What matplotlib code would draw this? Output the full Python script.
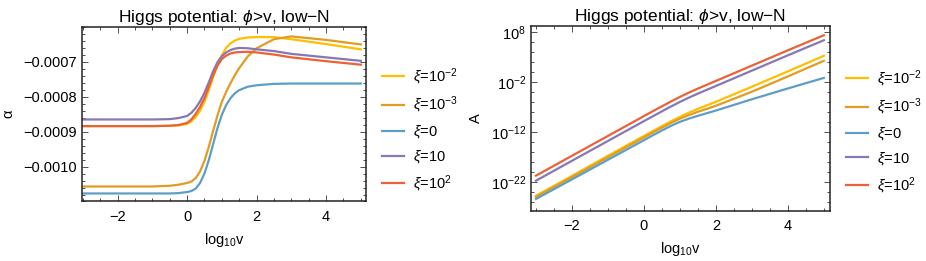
import numpy as np
import matplotlib
matplotlib.use('Agg')
from matplotlib import pyplot as plt
from matplotlib.ticker import MultipleLocator, FixedLocator, NullFormatter


plt.rcParams['font.family'] = ['Liberation Sans', 'DejaVu Sans']
plt.rcParams['mathtext.fontset'] = 'custom'
plt.rcParams['mathtext.rm'] = 'Liberation Sans'
plt.rcParams['mathtext.it'] = 'Liberation Sans:italic'
plt.rcParams['axes.unicode_minus'] = True

labels = [r'$\xi$=10$^{-2}$', r'$\xi$=10$^{-3}$', r'$\xi$=0', r'$\xi$=10', r'$\xi$=10$^{2}$']
colors = ['#FFBF00', '#E19C24', '#5D9EC7', '#8778B3', '#EB6235']
title = 'Higgs potential: $\\phi$>v, low\u2212N'

# left panel: alpha vs log10 v (units of 1e-4)
x_alpha = [-3, -1, -0.5, -0.25, 0, 0.125, 0.25, 0.375, 0.5, 0.625, 0.75, 0.875,
           1, 1.125, 1.25, 1.375, 1.5, 1.75, 2, 2.5, 3, 4, 5]
alpha_1e_2 = [-8.84, -8.84, -8.83, -8.82, -8.78, -8.70, -8.58, -8.40, -8.15, -7.82, -7.44, -7.09,
              -6.81, -6.60, -6.47, -6.39, -6.34, -6.30, -6.29, -6.29, -6.35, -6.49, -6.64]
alpha_1e_3 = [-10.57, -10.57, -10.55, -10.52, -10.47, -10.43, -10.33, -10.14, -9.84, -9.44, -8.98, -8.54,
              -8.15, -7.86, -7.61, -7.38, -7.18, -6.84, -6.61, -6.35, -6.27, -6.37, -6.50]
alpha_0 = [-10.77, -10.77, -10.77, -10.76, -10.73, -10.70, -10.63, -10.47, -10.20, -9.82, -9.36, -8.90,
           -8.52, -8.24, -8.04, -7.90, -7.81, -7.71, -7.67, -7.63, -7.62, -7.62, -7.62]
alpha_10 = [-8.65, -8.65, -8.64, -8.61, -8.55, -8.46, -8.32, -8.13, -7.89, -7.59, -7.27, -7.01,
            -6.84, -6.73, -6.66, -6.62, -6.60, -6.61, -6.64, -6.69, -6.77, -6.87, -6.97]
alpha_1e2 = [-8.84, -8.84, -8.83, -8.81, -8.75, -8.65, -8.49, -8.29, -8.04, -7.72, -7.39, -7.11,
             -6.92, -6.82, -6.76, -6.73, -6.72, -6.71, -6.73, -6.79, -6.87, -6.98, -7.08]

# right panel: log10 A vs log10 v
x_A = [-3, -2, -1, 0, 0.25, 0.5, 0.75, 1, 1.25, 1.5, 2, 3, 4, 5]
logA_1e_2 = [-24.66, -20.7, -16.7, -12.75, -11.77, -10.8, -9.85, -8.95, -8.12, -7.35, -5.95, -2.95, 0.1, 3.2]
logA_1e_3 = [-24.9, -20.95, -17.0, -13.05, -12.07, -11.1, -10.17, -9.32, -8.6, -7.95, -6.75, -3.95, -0.9, 2.2]
logA_0 = [-25.3, -21.4, -17.5, -13.6, -12.62, -11.66, -10.75, -9.95, -9.3, -8.75, -7.7, -5.45, -3.3, -1.2]
logA_10 = [-21.66, -17.7, -13.75, -9.8, -8.82, -7.85, -6.9, -5.98, -5.12, -4.32, -2.8, 0.25, 3.3, 6.3]
logA_1e2 = [-20.66, -16.7, -12.75, -8.8, -7.82, -6.85, -5.9, -4.98, -4.12, -3.32, -1.8, 1.25, 4.3, 7.3]

alpha_series = [alpha_1e_2, alpha_1e_3, alpha_0, alpha_10, alpha_1e2]
A_series = [logA_1e_2, logA_1e_3, logA_0, logA_10, logA_1e2]

fig = plt.figure(figsize=(9.26, 2.61), dpi=100)
ax1 = fig.add_axes([0.0886, 0.228, 0.3067, 0.6686])
ax2 = fig.add_axes([0.5734, 0.1916, 0.3229, 0.710])

for vals, c, lab in zip(alpha_series, colors, labels):
    ax1.plot(x_alpha, np.array(vals) * 1e-4, color=c, lw=1.6, label=lab)
for vals, c, lab in zip(A_series, colors, labels):
    ax2.plot(x_A, 10.0 ** np.array(vals), color=c, lw=1.6, label=lab)

ax1.set_xlim(-3.02, 5.15)
ax1.set_ylim(-0.0011, -0.0006)
ax1.yaxis.set_major_locator(FixedLocator([-0.0010, -0.0009, -0.0008, -0.0007]))
ax1.yaxis.set_minor_locator(MultipleLocator(0.00002))
ax1.yaxis.set_major_formatter(plt.FuncFormatter(lambda v, p: ('%.4f' % v).replace('-', '\u2212')))
ax1.set_ylabel('\u03b1', fontsize=10.5)
ax1.yaxis.set_label_coords(-0.235, 0.5)

ax2.set_yscale('log')
ax2.set_xlim(-3.14, 5.17)
ax2.set_ylim(10 ** -27.7, 10 ** 9.2)
ax2.yaxis.set_major_locator(FixedLocator([1e-22, 1e-12, 1e-2, 1e8]))
ax2.yaxis.set_minor_locator(FixedLocator([10.0 ** k for k in range(-26, 10, 2)]))
ax2.yaxis.set_minor_formatter(NullFormatter())
ax2.set_ylabel('A', fontsize=10.5, labelpad=6)

legend_y = {ax1: 0.41, ax2: 0.427}
for ax in (ax1, ax2):
    ax.set_title(title, fontsize=12.5, pad=3)
    ax.set_xlabel('log$_{10}$v', fontsize=10.5, labelpad=5)
    ax.xaxis.set_major_locator(MultipleLocator(2))
    ax.xaxis.set_minor_locator(MultipleLocator(0.5))
    ax.tick_params(which='both', direction='in', top=True, right=True, labelsize=10.5, width=0.6, color='#333333')
    ax.tick_params(which='major', length=4)
    ax.tick_params(which='minor', length=2)
    ax.tick_params(axis='x', pad=6)
    for s in ax.spines.values():
        s.set_linewidth(1.1)
        s.set_color('#222222')
    ax.legend(loc='center left', bbox_to_anchor=(1.01, legend_y[ax]), frameon=False, fontsize=10.5,
              handlelength=1.5, handletextpad=0.6, labelspacing=0.55)

fig.savefig('out.png', dpi=100)
